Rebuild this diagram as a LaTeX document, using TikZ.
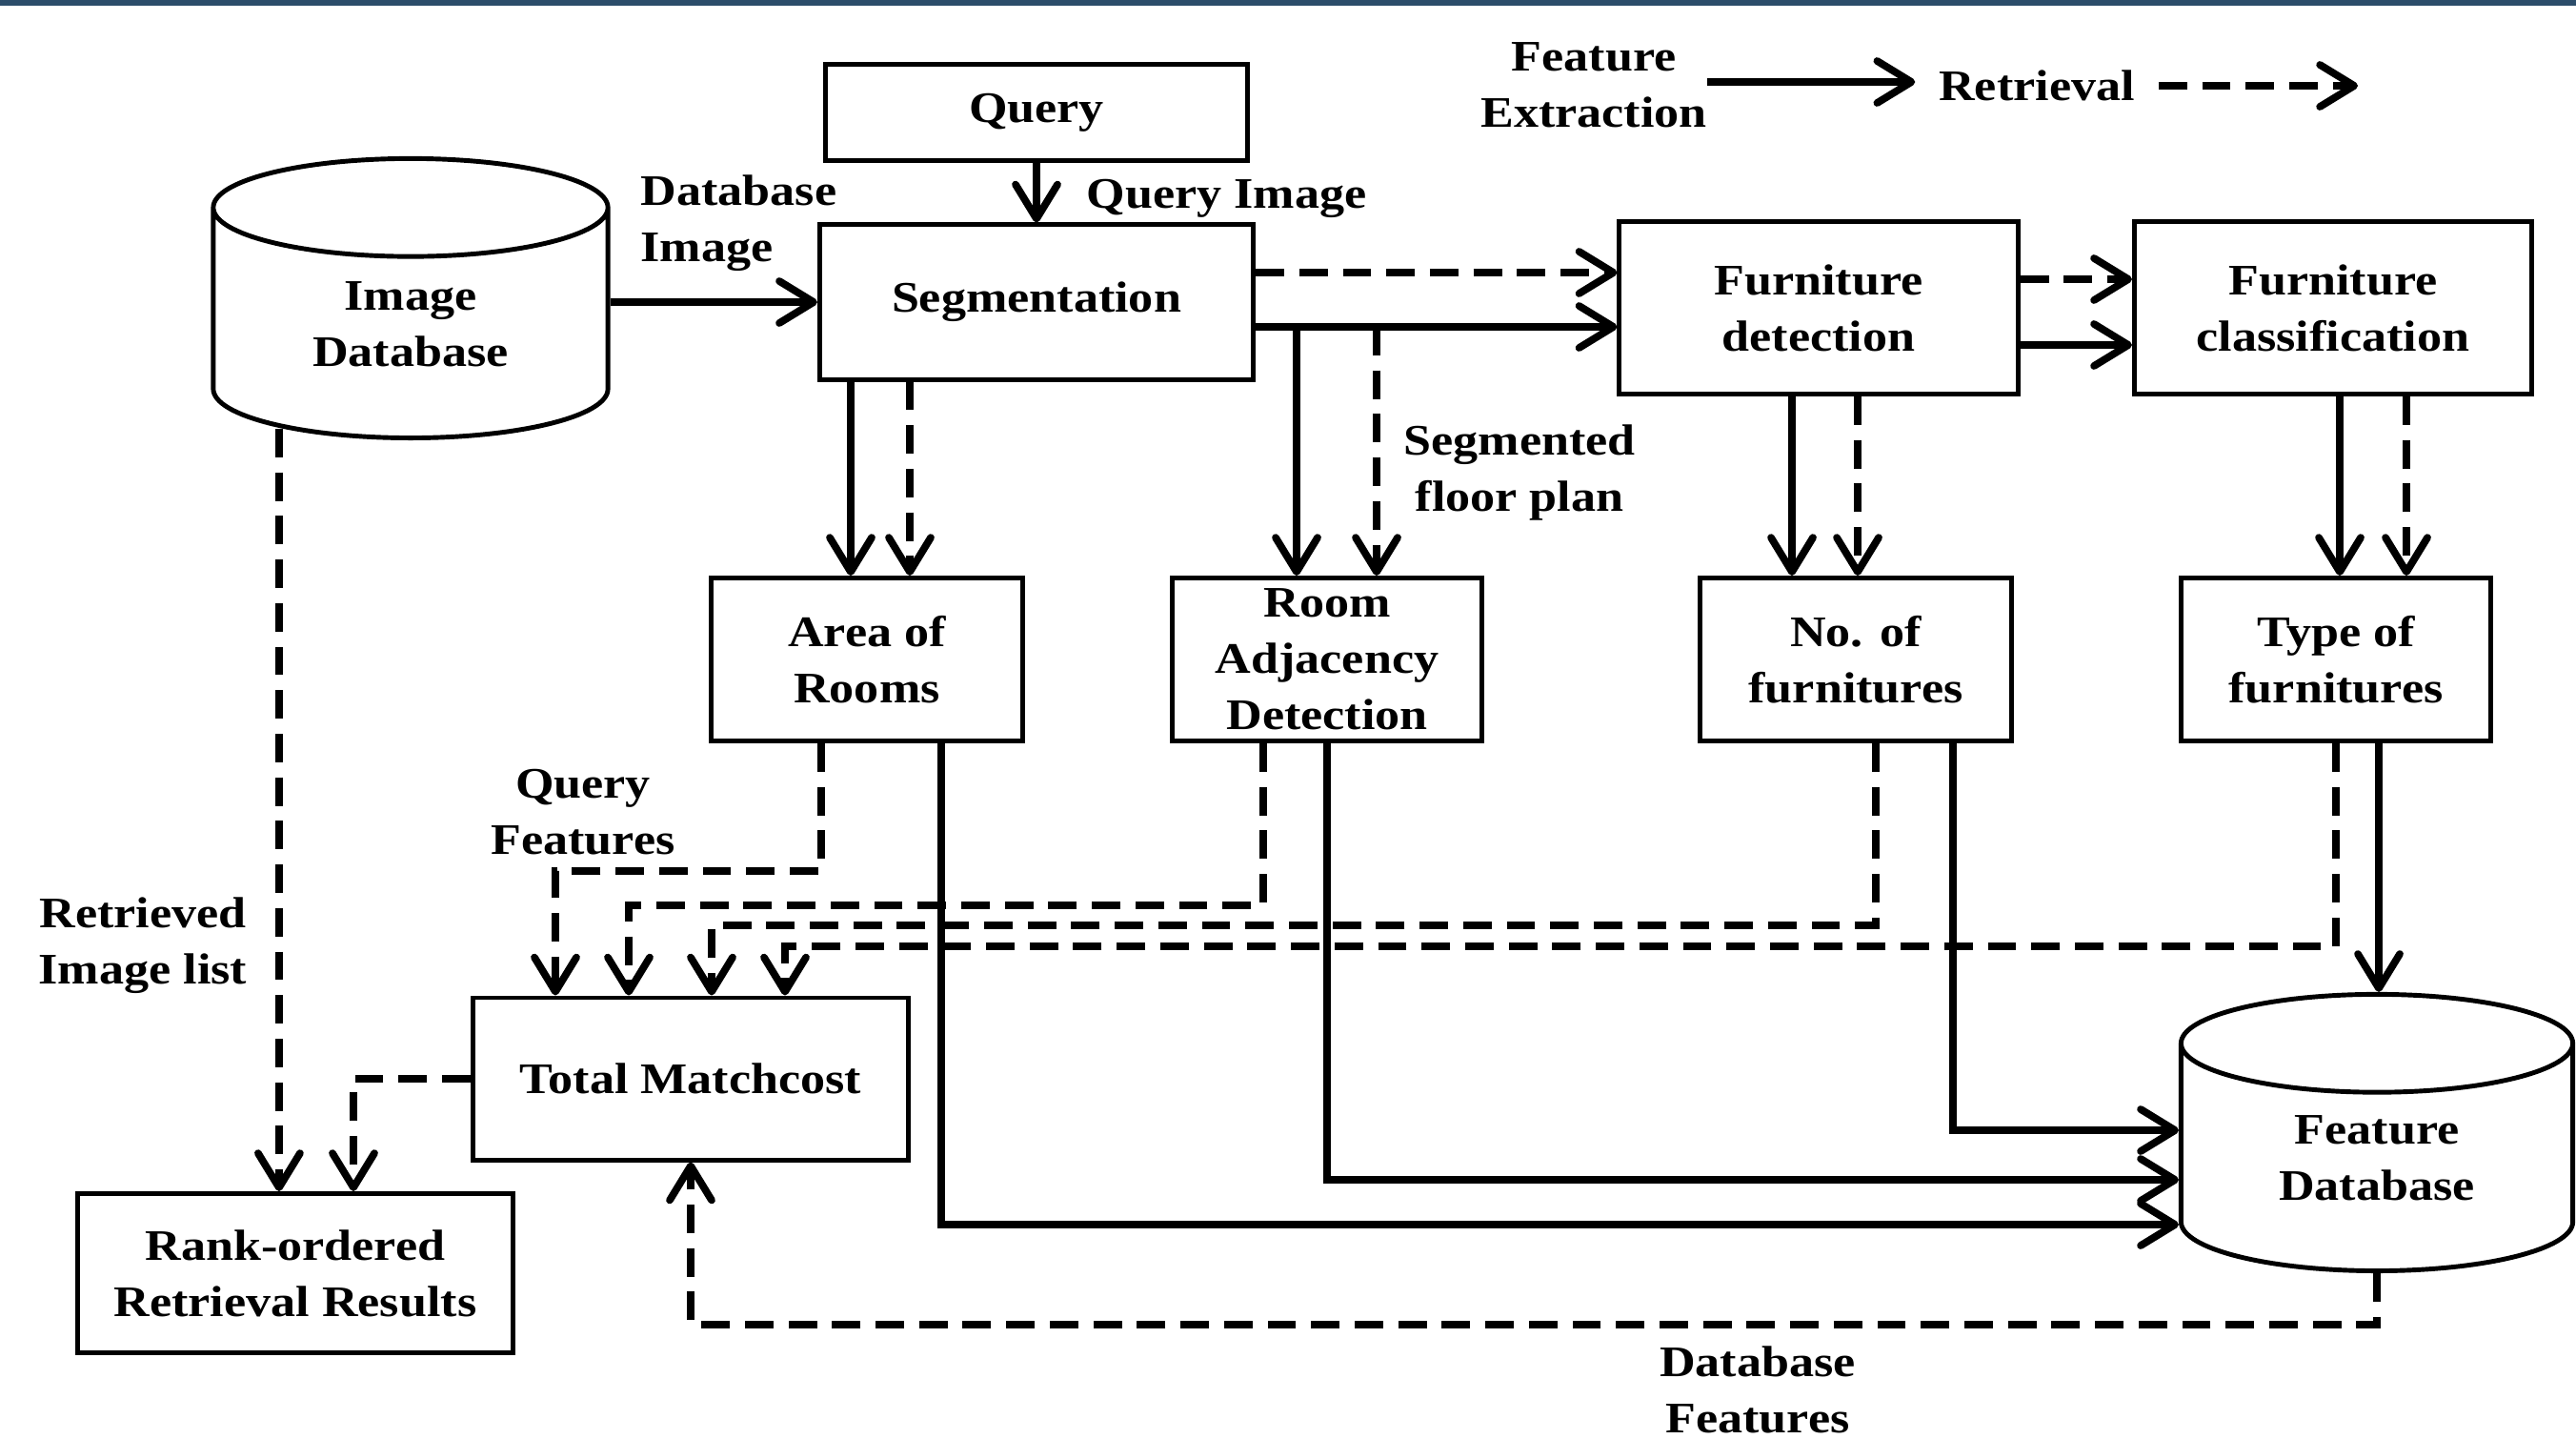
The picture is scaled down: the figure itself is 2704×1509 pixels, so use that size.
\documentclass[tikz,border=0pt]{standalone}
\usepackage{fontspec}
\setmainfont{Liberation Serif}[FakeStretch=1.14]
\usetikzlibrary{arrows.meta, shapes.geometric, calc}
\definecolor{bandblue}{HTML}{2C4D6A}

\begin{document}
\begin{tikzpicture}[x=0.01cm, y=-0.01cm, font=\fontsize{13}{16.8}\selectfont\bfseries,
    box/.style={draw, line width=1.4pt, align=center, inner sep=0pt},
    dbase/.style={draw, line width=1.4pt, align=center, inner sep=0pt, cylinder, shape border rotate=90, aspect=0.5},
    lbl/.style={align=center, inner sep=0pt},
    feat/.style={line width=2.2pt, -{Straight Barb[length=3.6mm, width=4.4mm, round]}},
    retr/.style={feat, dash pattern=on 8.5pt off 4.5pt}]
  \useasboundingbox (0,0) rectangle (2704,1509);
  \fill[bandblue] (0,0) rectangle (2704,6);

  % Legend
  \node[lbl] (legfe) at (1673,89) {Feature\\Extraction};
  \node[lbl, outer sep=0.25cm] (legret) at (2138,90) {Retrieval};
  \coordinate (legend end) at (2475,90);
  \draw[feat] (legfe.east |- 0,86) -- (legret.west |- 0,86);
  \draw[retr] (legret.east |- legend end) -- (legend end);

  % Top row
  \node[box, minimum width=4.42cm, minimum height=1.01cm] (query) at (1088,118) {Query};
  \node[box, minimum width=4.55cm, minimum height=1.62cm] (seg) at (1088,317) {Segmentation};
  \node[dbase, anchor=south, minimum width=4.14cm, minimum height=2.93cm] (imgdb) at (431,462) {Image\\Database};
  \node[box, minimum width=4.18cm, minimum height=1.81cm] (fd) at (1909,323) {Furniture\\detection};
  \node[box, minimum width=4.17cm, minimum height=1.81cm] (fc) at (2449,323) {Furniture\\classification};

  % Feature boxes
  \node[box, minimum width=3.26cm, minimum height=1.71cm] (area) at (910,692) {Area of\\Rooms};
  \node[box, minimum width=3.25cm, minimum height=1.71cm] (adj) at (1393,692) {Room\\Adjacency\\Detection};
  \node[box, minimum width=3.26cm, minimum height=1.71cm] (nof) at (1948,692) {No. of\\furnitures};
  \node[box, minimum width=3.24cm, minimum height=1.71cm] (tof) at (2452,692) {Type of\\furnitures};

  % Bottom row
  \node[box, minimum width=4.57cm, minimum height=1.70cm] (total) at (725,1132) {Total Matchcost};
  \node[box, minimum width=4.57cm, minimum height=1.67cm] (rank) at (310,1336) {Rank-ordered\\Retrieval Results};
  \node[dbase, anchor=south, minimum width=4.11cm, minimum height=2.90cm] (featdb) at (2495,1336) {Feature\\Database};

  % Labels
  \node[lbl, anchor=west, align=left] (dbimg) at (672,234) {Database\\Image};
  \node[lbl, anchor=west] (qimg) at (1140,208) {Query Image};
  \node[lbl] (segfp) at (1595,496) {Segmented\\floor plan};
  \node[lbl] (qfeat) at (612,852) {Query\\Features};
  \node[lbl] (retlist) at (150,992) {Retrieved\\Image list};
  \node[lbl] (dbfeat) at (1845,1458) {Database\\Features};

  % Input side
  \draw[feat] (query) -- (seg);
  \draw[feat] (imgdb.east |- seg.west) -- (seg.west);
  \coordinate (segsolid) at (seg.east |- 0,343);
  \draw[retr] (seg.east |- 0,286) -- (fd.west |- 0,286);
  \draw[feat] (segsolid) -- (segsolid -| fd.west);
  \draw[retr] (fd.east |- 0,293) -- (fc.west |- 0,293);
  \draw[feat] (fd.east |- 0,362) -- (fc.west |- 0,362);

  % Down to feature boxes
  \draw[feat] (893,0 |- seg.south) -- (893,0 |- area.north);
  \draw[retr] (955,0 |- seg.south) -- (955,0 |- area.north);
  \draw[feat] (1361,0 |- segsolid) -- (1361,0 |- adj.north);
  \draw[retr] (1445,0 |- segsolid) -- (1445,0 |- adj.north);
  \draw[feat] (1881,0 |- fd.south) -- (1881,0 |- nof.north);
  \draw[retr] (1950,0 |- fd.south) -- (1950,0 |- nof.north);
  \draw[feat] (2456,0 |- fc.south) -- (2456,0 |- tof.north);
  \draw[retr] (2526,0 |- fc.south) -- (2526,0 |- tof.north);

  % Query features to matchcost
  \draw[retr] (862,0 |- area.south) -- (862,914) -| (583,0 |- total.north);
  \draw[retr] (1326,0 |- adj.south) -- (1326,950) -| (660,0 |- total.north);
  \draw[retr] (1969,0 |- nof.south) -- (1969,971) -| (747,0 |- total.north);
  \draw[retr] (tof.south) -- (2452,993) -| (824,0 |- total.north);

  % Features stored in the feature database
  \draw[feat] (988,0 |- area.south) |- (featdb.west |- 0,1285);
  \draw[feat] (adj.south) |- (featdb.west |- 0,1238);
  \draw[feat] (2050,0 |- nof.south) |- (featdb.west |- 0,1186);
  \draw[feat] (2497,0 |- tof.south) -- (2497,0 |- featdb.north);

  % Retrieval
  \draw[retr] ([xshift=-1.38cm, yshift=0.12cm]imgdb.south) coordinate (imglist) -- (imglist |- rank.north);
  \draw[retr] (total.west) -| (371,0 |- rank.north);
  \draw[retr] (featdb.south) -- (2495,1390) -| (total.south);
\end{tikzpicture}
\end{document}
